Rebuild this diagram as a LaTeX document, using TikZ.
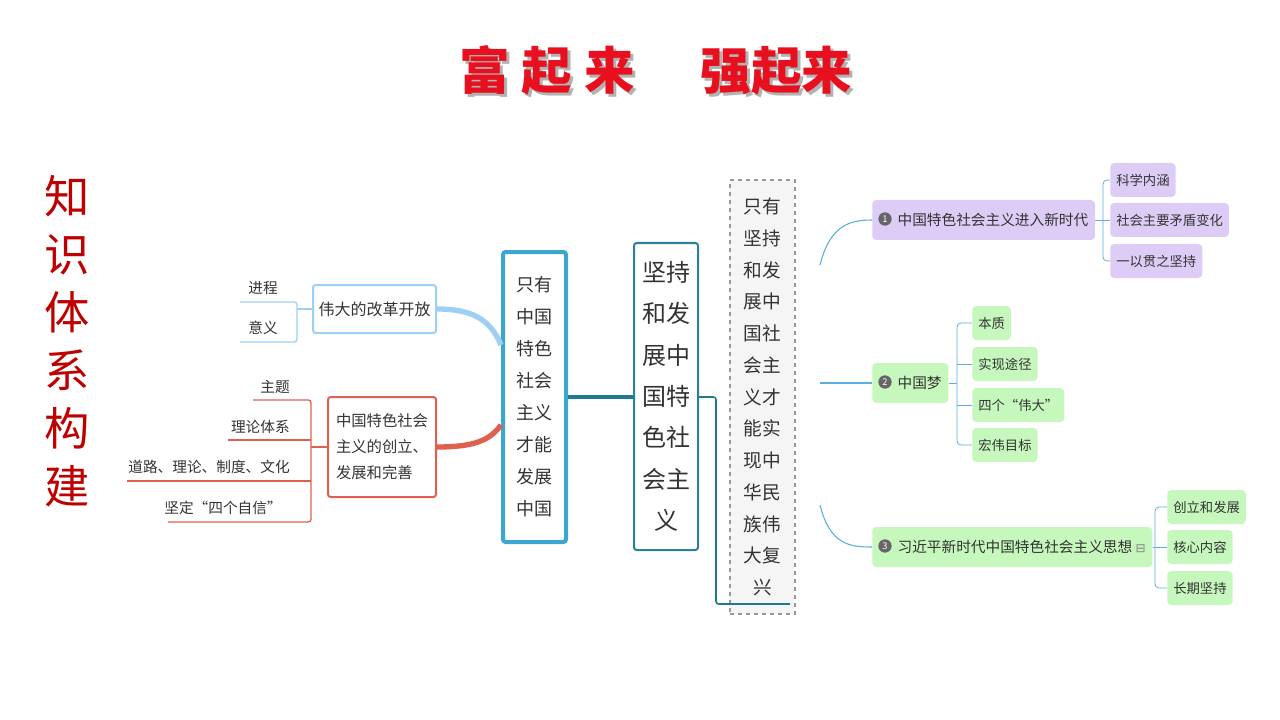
\documentclass[tikz,border=0pt]{standalone}
\usepackage{fontspec}
\setmainfont{Noto Sans CJK SC}
\newfontfamily\djv{DejaVu Sans}
\definecolor{cA}{HTML}{3BA6CF}
\definecolor{cB}{HTML}{2A8097}
\definecolor{cAB}{HTML}{1E7A92}
\definecolor{cLB}{HTML}{9ECFF5}
\definecolor{cRD}{HTML}{E0604F}
\definecolor{cRC}{HTML}{5AAEE0}
\definecolor{cPU}{HTML}{DDCCF6}
\definecolor{cGR}{HTML}{C6F8BE}
\definecolor{cTT}{HTML}{E8101E}
\begin{document}
\def\u{0.75pt}
\begin{tikzpicture}[x=0.75pt,y=-0.75pt,
  base/.style={inner sep=0pt,align=center,text=black!80},
  rbox/.style={base,draw,rounded corners=2pt,line width=1.5pt},
  kid/.style={base,rounded corners=3pt,anchor=west,inner xsep=4.5pt,minimum height=34*\u,font=\fontsize{10}{12}\selectfont},
  main/.style={base,rounded corners=3pt,anchor=west,inner xsep=5pt,minimum height=40*\u,font=\fontsize{11}{13}\selectfont},
  lbl/.style={base,font=\fontsize{11}{13}\selectfont,anchor=east},
  num/.style={circle,fill=black!60,text=white,inner sep=0pt,minimum size=10pt,font=\fontsize{7}{7}\selectfont},
  bl/.style={draw=cRC,line width=0.8pt},
  lb/.style={draw=cLB,line width=1pt},
  rd/.style={draw=cRD,line width=1pt}]
\useasboundingbox (0,0) rectangle (1280,720);
% title
\node[font=\fontsize{38}{40}\selectfont\bfseries,text=black!30] (tsh) at (659,73) {富 起 来\hspace{1.3em}强起来};
\node[font=\fontsize{38}{40}\selectfont\bfseries,text=cTT] (title) at (656,70) {富 起 来\hspace{1.3em}强起来};
\node[font=\fontsize{34}{43.5}\selectfont,text=red!75!black,align=center,inner sep=0pt] (side) at (67,341) {知\\识\\体\\系\\构\\建};
% central nodes
\node[base,draw=cA,line width=3pt,rounded corners=2pt,minimum width=63*\u,minimum height=290*\u,font=\fontsize{13.5}{24}\selectfont] (A) at (534.5,397) {只有\\中国\\特色\\社会\\主义\\才能\\发展\\中国};
\node[base,draw=cB,line width=1.5pt,rounded corners=2pt,minimum width=64*\u,minimum height=307*\u,font=\fontsize{18}{31}\selectfont] (B) at (666,396.5) {坚持\\和发\\展中\\国特\\色社\\会主\\义};
\node[base,draw=black!40,dashed,line width=1pt,fill=black!4,minimum width=65*\u,minimum height=434*\u,font=\fontsize{14}{23.8}\selectfont] (C) at (762.5,397) {只有\\坚持\\和发\\展中\\国社\\会主\\义才\\能实\\现中\\华民\\族伟\\大复\\兴};
\draw[cAB,line width=3pt] (A.east |- 0,397) -- (B.west |- 0,397);
\coordinate (bc) at (790,604);
\draw[cAB,line width=1.2pt,rounded corners=2pt] (B.east |- 0,397) -- (716,397) -- (716,604) -- (bc);
% right branch 1
\node[main,fill=cPU] (n1) at (872,220) {\hspace*{14pt}中国特色社会主义进入新时代};
\node[num] (c1) at (885,219) {1};
\node[kid,fill=cPU] (n11) at (1110,180) {科学内涵};
\node[kid,fill=cPU] (n12) at (1110,220) {社会主要矛盾变化};
\node[kid,fill=cPU] (n13) at (1110,261) {一以贯之坚持};
% branch 2
\node[main,fill=cGR] (n2) at (872,383) {\hspace*{14pt}中国梦};
\node[num] (c2) at (885,382) {2};
\node[kid,fill=cGR] (n21) at (972,323) {本质};
\node[kid,fill=cGR] (n22) at (972,364) {实现途径};
\node[kid,fill=cGR] (n23) at (972,405) {四个“伟大”};
\node[kid,fill=cGR] (n24) at (972,445) {宏伟目标};
% branch 3
\node[main,fill=cGR] (n3) at (872,547) {\hspace*{14pt}习近平新时代中国特色社会主义思想 {\djv\fontsize{9}{9}\selectfont\color{black!50}⊟}};
\node[num] (c3) at (885,546) {3};
\node[kid,fill=cGR] (n31) at (1167,507) {创立和发展};
\node[kid,fill=cGR] (n32) at (1167,547) {核心内容};
\node[kid,fill=cGR] (n33) at (1167,588) {长期坚持};
% connectors right
\coordinate (r1) at (820,265); \coordinate (r2) at (820,383); \coordinate (r3) at (820,505);
\draw[bl] (r1) .. controls (830,225) and (850,220) .. (n1.west);
\draw[bl] (r2) -- (n2.west);
\draw[bl] (r3) .. controls (830,545) and (850,547) .. (n3.west);
\draw[bl,line width=0.6pt,rounded corners=3pt] (n11.west) -- (1103,180) -- (1103,261) -- (n13.west);
\draw[bl,line width=0.6pt] (n1.east) -- (n12.west);
\draw[bl,line width=0.6pt,rounded corners=3pt] (n21.west) -- (957,323) -- (957,445) -- (n24.west);
\draw[bl,line width=0.6pt] (n2.east) -- (957,383);
\draw[bl,line width=0.6pt] (957,364) -- (n22.west);
\draw[bl,line width=0.6pt] (957,405) -- (n23.west);
\draw[bl,line width=0.6pt,rounded corners=3pt] (n31.west) -- (1155,507) -- (1155,588) -- (n33.west);
\draw[bl,line width=0.6pt] (n3.east) -- (n32.west);
% left branch: reform
\node[rbox,draw=cLB,minimum width=123*\u,minimum height=48*\u,font=\fontsize{12}{14}\selectfont] (L1) at (374.5,309) {伟大的改革开放};
\node[lbl] (L11) at (278,288) {进程};
\node[lbl] (L12) at (278,328) {意义};
\coordinate (u11) at (240,302); \coordinate (u12) at (240,342);
\draw[lb,rounded corners=2pt] (u11) -- (297,302) -- (297,342) -- (u12);
\draw[lb] (297,309) -- (L1.west);
\draw[draw=cLB,line width=4pt] (L1.east) .. controls (470,309) and (490,318) .. (A.west |- 0,345);
% left branch: red
\node[rbox,draw=cRD,minimum width=108*\u,minimum height=100*\u,font=\fontsize{11.5}{19.5}\selectfont,align=left] (L2) at (382,447) {中国特色社会\\主义的创立、\\发展和完善};
\node[lbl] (L21) at (290,387) {主题};
\node[lbl] (L22) at (290,427) {理论体系};
\node[lbl] (L23) at (290,467) {道路、理论、制度、文化};
\node[lbl] (L24) at (282,508) {坚定“四个自信”};
\coordinate (u21) at (253,400); \coordinate (u22) at (228,440); \coordinate (u23) at (127,481); \coordinate (u24) at (168,522);
\draw[rd,rounded corners=2pt] (u21) -- (311,400) -- (311,522) -- (u24);
\draw[rd] (u22) -- (311,440);
\draw[rd] (u23) -- (311,481);
\draw[rd] (311,447) -- (L2.west);
\draw[draw=cRD,line width=4pt] (L2.east) .. controls (475,447) and (490,440) .. (A.west |- 0,425);
\end{tikzpicture}
\end{document}
